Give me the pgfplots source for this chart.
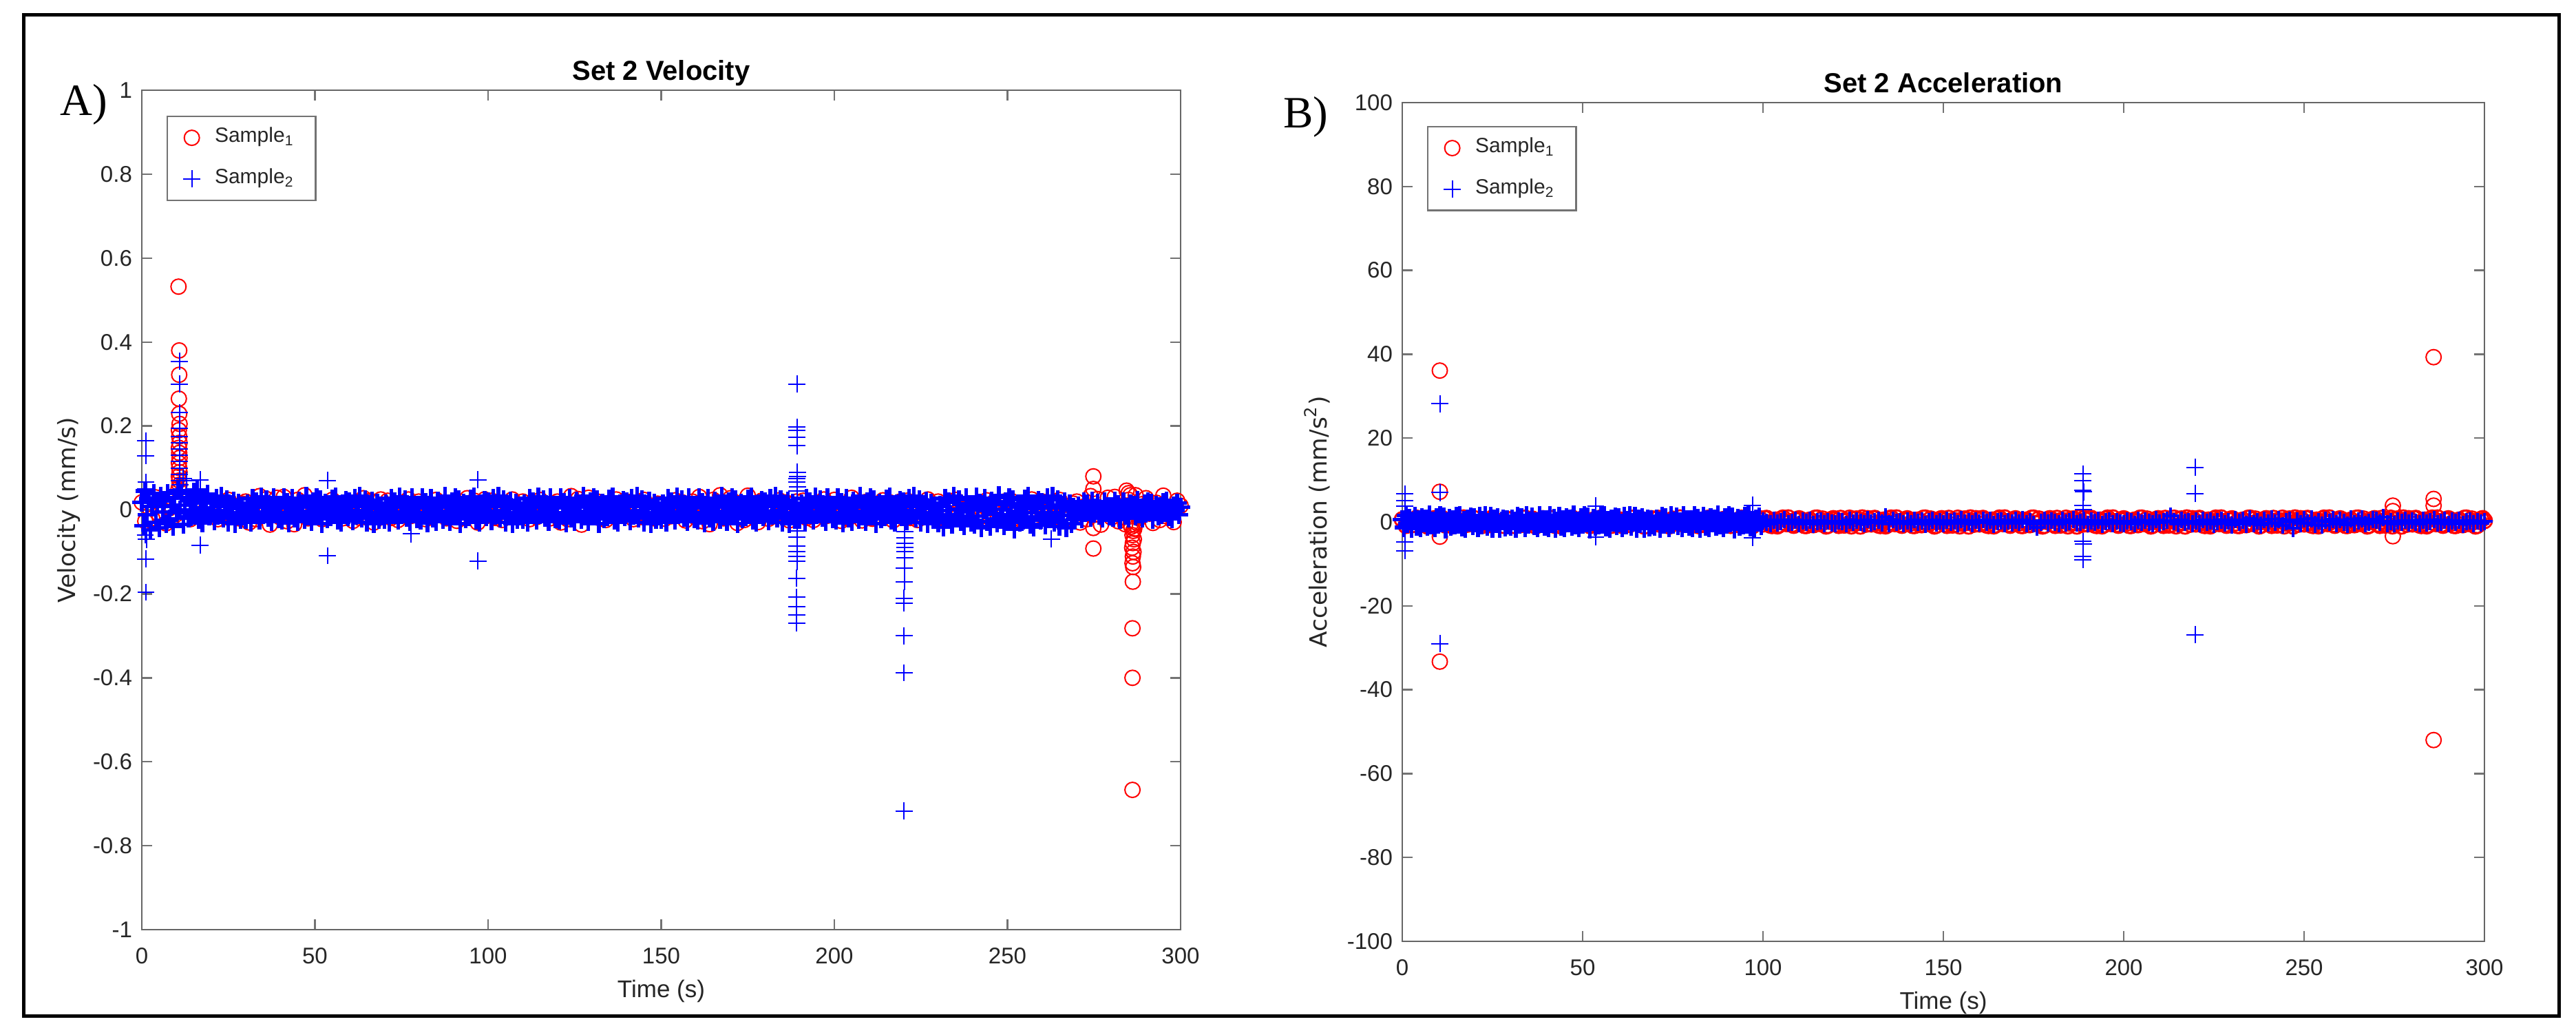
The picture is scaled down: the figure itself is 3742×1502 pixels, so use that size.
\documentclass[border=0pt]{standalone}
\usepackage{fontspec}
\setmainfont{Liberation Sans}
\newfontfamily\panelfont{Liberation Serif}
\newfontfamily\labelfont{DejaVu Sans}
\usepackage{pgfplots}
\pgfplotsset{compat=1.18}
\pgfplotsset{
  matlab/.style={
    scale only axis, clip=false,
    xmin=0, xmax=300,
    xtick={0,50,100,150,200,250,300},
    xticklabels={0,50,100,150,200,250,300},
    tick align=inside, major tick length=3.75pt,
    axis line style={black!60, line width=0.6pt},
    tick style={black!55, line width=0.6pt},
    tick label style={font=\fontsize{8.25}{9}\selectfont, text=black!85},
    xticklabel style={yshift=-3.2pt},
    every axis title/.style={at={(0.5,1)}, anchor=base, yshift=3.75pt, font=\fontsize{10}{12}\selectfont\bfseries},
    xlabel style={font=\fontsize{8.75}{10}\selectfont, text=black!85, at={(axis description cs:0.5,0)}, anchor=base, yshift=-24.5pt},
    ylabel style={font=\fontsize{8.6}{10}\labelfont, text=black!85, anchor=center},
    legend style={anchor=north west, draw=black!55, line width=0.6pt, font=\fontsize{7.5}{9}\selectfont, text=black!85, inner xsep=5.75pt, inner ysep=2pt, row sep=3.5pt, column sep=3.25pt, cells={anchor=west}, nodes={inner sep=2pt, text depth=0.2em}},
  },
  s1/.style={only marks, mark=o, color=red, mark size=2.75pt, line width=0.5pt},
  s1band/.style={only marks, mark=o, color=red, mark size=2.75pt, line width=0.7pt},
  s2/.style={only marks, mark=+, color=blue, mark size=3.1pt, line width=0.5pt},
  s2band/.style={only marks, mark=+, color=blue, mark size=3.4pt, line width=1.3pt},
}
\begin{document}
\begin{tikzpicture}[x=0.25pt,y=0.25pt]
\useasboundingbox (0,0) rectangle (3742,1502);
\fill[white] (0,0) rectangle (3742,1502);
\draw[line width=1.25pt] (34,27) rectangle (3717,1480);
\node[font=\fontsize{16.25}{18}\panelfont, anchor=center] at (122,1350) {A)};
\node[font=\fontsize{16.25}{18}\panelfont, anchor=center] at (1897,1332) {B)};
\coordinate (LA) at (206,152);
\coordinate (RA) at (2037,135);

% ---------------- Velocity ----------------
\begin{axis}[matlab, at={(LA)}, anchor=south west, width=377.25pt, height=304.75pt,
  ymin=-1, ymax=1,
  ytick={-1,-0.8,-0.6,-0.4,-0.2,0,0.2,0.4,0.6,0.8,1},
  yticklabels={-1,-0.8,-0.6,-0.4,-0.2,0,0.2,0.4,0.6,0.8,1},
  title={Set 2 Velocity}, xlabel={Time (s)}, ylabel={Velocity (mm/s)},
  ylabel style={at={(axis description cs:-0.0702,0.5)}},
  legend style={at={(axis description cs:0.0239,0.9696)}}]
% Sample 1 band
\addplot[s1, forget plot] coordinates {
(0,0.018)(1,-0.027)(2,0.007)(3,-0.020)(4,0.030)(5,-0.011)(6,0.023)(7,-0.032)(8,0.004)(9,0.026)
(10,-0.010)(11,0.027)(12,-0.017)(13,0.011)(14,-0.022)(15,0.022)(16,-0.001)(17,0.031)(18,-0.012)(19,0.014)
(20,0.020)(21,-0.006)(22,-0.022)(23,0.012)(24,-0.017)(25,0.024)(26,-0.011)(27,0.002)(28,-0.020)(29,0.015)
(30,0.020)(31,-0.030)(32,0.008)(33,-0.022)(34,0.033)(35,-0.012)(36,0.026)(37,-0.035)(38,0.004)(39,0.029)
(40,-0.018)(41,0.031)(42,-0.027)(43,0.010)(44,-0.034)(45,0.024)(46,-0.006)(47,0.035)(48,-0.020)(49,0.014)
(50,0.020)(51,-0.006)(52,-0.022)(53,0.012)(54,-0.017)(55,0.024)(56,-0.011)(57,0.002)(58,-0.020)(59,0.015)
(60,0.017)(61,-0.026)(62,0.007)(63,-0.019)(64,0.028)(65,-0.010)(66,0.022)(67,-0.030)(68,0.003)(69,0.025)
(70,-0.013)(71,0.022)(72,-0.019)(73,0.007)(74,-0.024)(75,0.017)(76,-0.004)(77,0.025)(78,-0.014)(79,0.010)
(80,0.020)(81,-0.006)(82,-0.022)(83,0.012)(84,-0.017)(85,0.024)(86,-0.011)(87,0.002)(88,-0.020)(89,0.015)
(90,0.017)(91,-0.026)(92,0.007)(93,-0.019)(94,0.028)(95,-0.010)(96,0.022)(97,-0.030)(98,0.003)(99,0.025)
(100,-0.013)(101,0.022)(102,-0.019)(103,0.007)(104,-0.024)(105,0.017)(106,-0.004)(107,0.025)(108,-0.014)(109,0.010)
(110,0.020)(111,-0.006)(112,-0.022)(113,0.012)(114,-0.017)(115,0.024)(116,-0.011)(117,0.002)(118,-0.020)(119,0.015)
(120,0.020)(121,-0.030)(122,0.008)(123,-0.022)(124,0.033)(125,-0.012)(126,0.026)(127,-0.035)(128,0.004)(129,0.029)
(130,-0.013)(131,0.022)(132,-0.019)(133,0.007)(134,-0.024)(135,0.017)(136,-0.004)(137,0.025)(138,-0.014)(139,0.010)
(140,0.020)(141,-0.006)(142,-0.022)(143,0.012)(144,-0.017)(145,0.024)(146,-0.011)(147,0.002)(148,-0.020)(149,0.015)
(150,0.014)(151,-0.021)(152,0.006)(153,-0.015)(154,0.023)(155,-0.008)(156,0.018)(157,-0.025)(158,0.003)(159,0.020)
(160,-0.018)(161,0.031)(162,-0.027)(163,0.010)(164,-0.034)(165,0.024)(166,-0.006)(167,0.035)(168,-0.020)(169,0.014)
(170,0.028)(171,-0.009)(172,-0.031)(173,0.017)(174,-0.024)(175,0.034)(176,-0.015)(177,0.003)(178,-0.029)(179,0.022)
(180,0.014)(181,-0.021)(182,0.006)(183,-0.015)(184,0.023)(185,-0.008)(186,0.018)(187,-0.025)(188,0.003)(189,0.020)
(190,-0.013)(191,0.022)(192,-0.019)(193,0.007)(194,-0.024)(195,0.017)(196,-0.004)(197,0.025)(198,-0.014)(199,0.010)
(200,0.024)(201,-0.008)(202,-0.026)(203,0.014)(204,-0.020)(205,0.029)(206,-0.013)(207,0.003)(208,-0.025)(209,0.019)
(210,0.014)(211,-0.021)(212,0.006)(213,-0.015)(214,0.023)(215,-0.008)(216,0.018)(217,-0.025)(218,0.003)(219,0.020)
(220,-0.013)(221,0.022)(222,-0.019)(223,0.007)(224,-0.024)(225,0.017)(226,-0.004)(227,0.025)(228,-0.014)(229,0.010)
(230,0.020)(231,-0.006)(232,-0.022)(233,0.012)(234,-0.017)(235,0.024)(236,-0.011)(237,0.002)(238,-0.020)(239,0.015)
(240,0.014)(241,-0.021)(242,0.006)(243,-0.015)(244,0.023)(245,-0.008)(246,0.018)(247,-0.025)(248,0.003)(249,0.020)
(250,-0.013)(251,0.022)(252,-0.019)(253,0.007)(254,-0.024)(255,0.017)(256,-0.004)(257,0.025)(258,-0.014)(259,0.010)
(260,0.020)(261,-0.006)(262,-0.022)(263,0.012)(264,-0.017)(265,0.024)(266,-0.011)(267,0.002)(268,-0.020)(269,0.015)
(270,0.020)(271,-0.030)(272,0.008)(273,-0.022)(274,0.033)(275,-0.012)(276,0.026)(277,-0.035)(278,0.004)(279,0.029)
(280,-0.018)(281,0.031)(282,-0.027)(283,0.010)(284,-0.034)(285,0.024)(286,-0.006)(287,0.035)(288,-0.020)(289,0.014)
(290,0.028)(291,-0.009)(292,-0.031)(293,0.017)(294,-0.024)(295,0.034)(296,-0.015)(297,0.003)(298,-0.029)(299,0.022)
(300,0.010)};
\addplot[s1] coordinates {
(10.6,0.532)(10.8,0.380)(10.8,0.322)(10.7,0.265)(10.8,0.229)(10.9,0.205)(10.7,0.190)(10.8,0.175)(10.9,0.160)(10.7,0.148)
(10.8,0.136)(10.9,0.124)(10.7,0.112)(10.8,0.100)(10.9,0.090)(10.7,0.080)(10.8,0.070)(10.9,0.060)(10.6,0.050)
(274.8,0.080)(274.8,0.050)(274.8,-0.043)(274.8,-0.092)
(284.4,0.046)(285,0.040)(285.5,0.035)
(286.1,-0.667)(286.1,-0.400)(286.1,-0.282)(286.2,-0.171)(286.3,-0.136)(286.1,-0.127)(286.2,-0.111)(286.4,-0.100)(286,-0.090)
(286.2,-0.079)(286.5,-0.070)(286.1,-0.060)(286.3,-0.050)(286.6,-0.045)(285.8,-0.040)(286.8,-0.035)(287.2,-0.030)(285.5,-0.035)};
\addlegendentry{Sample\textsubscript{1}}
% Sample 2 band
\addplot[s2band, forget plot] coordinates {
(0,0.018)(0.5,-0.038)(1,0.045)(1.5,-0.012)(2,0.027)(2.5,-0.047)(3,0.008)(3.5,0.040)(4,-0.029)(4.5,0.014)(5,-0.042)(5.5,0.033)(6,-0.005)(6.5,0.023)(7,-0.033)(7.5,0.040)(8,-0.021)(8.5,0.009)(9,-0.040)(9.5,0.030)
(10,-0.006)(10.5,0.046)(11,0.000)(11.5,0.039)(12,-0.035)(12.5,0.011)(13,0.030)(13.5,-0.019)(14,0.022)(14.5,-0.013)(15,0.042)(15.5,-0.004)(16,0.048)(16.5,-0.023)(17,0.017)(17.5,-0.031)(18,0.026)(18.5,0.005)(19,0.038)(19.5,-0.014)
(20,0.019)(20.5,-0.004)(21,-0.026)(21.5,0.028)(22,-0.013)(22.5,0.008)(23,0.032)(23.5,-0.020)(24,-0.001)(24.5,0.025)(25,-0.029)(25.5,0.013)(26,-0.007)(26.5,0.021)(27,-0.032)(27.5,0.004)(28,0.016)(28.5,-0.023)(29,0.010)(29.5,-0.015)
(30,-0.022)(30.5,0.014)(31,0.003)(31.5,-0.030)(32,0.027)(32.5,-0.010)(33,0.020)(33.5,-0.005)(34,-0.025)(34.5,0.031)(35,-0.012)(35.5,0.006)(36,0.024)(36.5,-0.018)(37,0.001)(37.5,-0.027)(38,0.029)(38.5,-0.008)(39,0.011)(39.5,-0.021)
(40,0.012)(40.5,-0.025)(41,0.030)(41.5,-0.008)(42,0.018)(42.5,-0.031)(43,0.005)(43.5,0.027)(44,-0.019)(44.5,0.009)(45,-0.028)(45.5,0.022)(46,-0.003)(46.5,0.015)(47,-0.022)(47.5,0.033)(48,-0.014)(48.5,0.006)(49,-0.027)(49.5,0.020)
(50,-0.011)(50.5,0.029)(51,-0.006)(51.5,0.024)(52,-0.033)(52.5,0.002)(53,0.017)(53.5,-0.021)(54,0.011)(54.5,-0.016)(55,0.026)(55.5,-0.009)(56,0.031)(56.5,-0.024)(57,0.007)(57.5,-0.030)(58,0.014)(58.5,-0.002)(59,0.023)(59.5,-0.017)
(60,0.019)(60.5,-0.004)(61,-0.026)(61.5,0.028)(62,-0.013)(62.5,0.008)(63,0.032)(63.5,-0.020)(64,-0.001)(64.5,0.025)(65,-0.029)(65.5,0.013)(66,-0.007)(66.5,0.021)(67,-0.032)(67.5,0.004)(68,0.016)(68.5,-0.023)(69,0.010)(69.5,-0.015)
(70,-0.022)(70.5,0.014)(71,0.003)(71.5,-0.030)(72,0.027)(72.5,-0.010)(73,0.020)(73.5,-0.005)(74,-0.025)(74.5,0.031)(75,-0.012)(75.5,0.006)(76,0.024)(76.5,-0.018)(77,0.001)(77.5,-0.027)(78,0.029)(78.5,-0.008)(79,0.011)(79.5,-0.021)
(80,0.012)(80.5,-0.025)(81,0.030)(81.5,-0.008)(82,0.018)(82.5,-0.031)(83,0.005)(83.5,0.027)(84,-0.019)(84.5,0.009)(85,-0.028)(85.5,0.022)(86,-0.003)(86.5,0.015)(87,-0.022)(87.5,0.033)(88,-0.014)(88.5,0.006)(89,-0.027)(89.5,0.020)
(90,-0.011)(90.5,0.029)(91,-0.006)(91.5,0.024)(92,-0.033)(92.5,0.002)(93,0.017)(93.5,-0.021)(94,0.011)(94.5,-0.016)(95,0.026)(95.5,-0.009)(96,0.031)(96.5,-0.024)(97,0.007)(97.5,-0.030)(98,0.014)(98.5,-0.002)(99,0.023)(99.5,-0.017)
(100,0.019)(100.5,-0.004)(101,-0.026)(101.5,0.028)(102,-0.013)(102.5,0.008)(103,0.032)(103.5,-0.020)(104,-0.001)(104.5,0.025)(105,-0.029)(105.5,0.013)(106,-0.007)(106.5,0.021)(107,-0.032)(107.5,0.004)(108,0.016)(108.5,-0.023)(109,0.010)(109.5,-0.015)
(110,-0.022)(110.5,0.014)(111,0.003)(111.5,-0.030)(112,0.027)(112.5,-0.010)(113,0.020)(113.5,-0.005)(114,-0.025)(114.5,0.031)(115,-0.012)(115.5,0.006)(116,0.024)(116.5,-0.018)(117,0.001)(117.5,-0.027)(118,0.029)(118.5,-0.008)(119,0.011)(119.5,-0.021)
(120,0.012)(120.5,-0.025)(121,0.030)(121.5,-0.008)(122,0.018)(122.5,-0.031)(123,0.005)(123.5,0.027)(124,-0.019)(124.5,0.009)(125,-0.028)(125.5,0.022)(126,-0.003)(126.5,0.015)(127,-0.022)(127.5,0.033)(128,-0.014)(128.5,0.006)(129,-0.027)(129.5,0.020)
(130,-0.011)(130.5,0.029)(131,-0.006)(131.5,0.024)(132,-0.033)(132.5,0.002)(133,0.017)(133.5,-0.021)(134,0.011)(134.5,-0.016)(135,0.026)(135.5,-0.009)(136,0.031)(136.5,-0.024)(137,0.007)(137.5,-0.030)(138,0.014)(138.5,-0.002)(139,0.023)(139.5,-0.017)
(140,0.019)(140.5,-0.004)(141,-0.026)(141.5,0.028)(142,-0.013)(142.5,0.008)(143,0.032)(143.5,-0.020)(144,-0.001)(144.5,0.025)(145,-0.029)(145.5,0.013)(146,-0.007)(146.5,0.021)(147,-0.032)(147.5,0.004)(148,0.016)(148.5,-0.023)(149,0.010)(149.5,-0.015)
(150,-0.022)(150.5,0.014)(151,0.003)(151.5,-0.030)(152,0.027)(152.5,-0.010)(153,0.020)(153.5,-0.005)(154,-0.025)(154.5,0.031)(155,-0.012)(155.5,0.006)(156,0.024)(156.5,-0.018)(157,0.001)(157.5,-0.027)(158,0.029)(158.5,-0.008)(159,0.011)(159.5,-0.021)
(160,0.012)(160.5,-0.025)(161,0.030)(161.5,-0.008)(162,0.018)(162.5,-0.031)(163,0.005)(163.5,0.027)(164,-0.019)(164.5,0.009)(165,-0.028)(165.5,0.022)(166,-0.003)(166.5,0.015)(167,-0.022)(167.5,0.033)(168,-0.014)(168.5,0.006)(169,-0.027)(169.5,0.020)
(170,-0.011)(170.5,0.029)(171,-0.006)(171.5,0.024)(172,-0.033)(172.5,0.002)(173,0.017)(173.5,-0.021)(174,0.011)(174.5,-0.016)(175,0.026)(175.5,-0.009)(176,0.031)(176.5,-0.024)(177,0.007)(177.5,-0.030)(178,0.014)(178.5,-0.002)(179,0.023)(179.5,-0.017)
(180,0.019)(180.5,-0.004)(181,-0.026)(181.5,0.028)(182,-0.013)(182.5,0.008)(183,0.032)(183.5,-0.020)(184,-0.001)(184.5,0.025)(185,-0.029)(185.5,0.013)(186,-0.007)(186.5,0.021)(187,-0.032)(187.5,0.004)(188,0.016)(188.5,-0.023)(189,0.010)(189.5,-0.015)
(190,-0.022)(190.5,0.014)(191,0.003)(191.5,-0.030)(192,0.027)(192.5,-0.010)(193,0.020)(193.5,-0.005)(194,-0.025)(194.5,0.031)(195,-0.012)(195.5,0.006)(196,0.024)(196.5,-0.018)(197,0.001)(197.5,-0.027)(198,0.029)(198.5,-0.008)(199,0.011)(199.5,-0.021)
(200,0.012)(200.5,-0.025)(201,0.030)(201.5,-0.008)(202,0.018)(202.5,-0.031)(203,0.005)(203.5,0.027)(204,-0.019)(204.5,0.009)(205,-0.028)(205.5,0.022)(206,-0.003)(206.5,0.015)(207,-0.022)(207.5,0.033)(208,-0.014)(208.5,0.006)(209,-0.027)(209.5,0.020)
(210,-0.011)(210.5,0.029)(211,-0.006)(211.5,0.024)(212,-0.033)(212.5,0.002)(213,0.017)(213.5,-0.021)(214,0.011)(214.5,-0.016)(215,0.026)(215.5,-0.009)(216,0.031)(216.5,-0.024)(217,0.007)(217.5,-0.030)(218,0.014)(218.5,-0.002)(219,0.023)(219.5,-0.017)
(220,0.019)(220.5,-0.004)(221,-0.026)(221.5,0.028)(222,-0.013)(222.5,0.008)(223,0.032)(223.5,-0.020)(224,-0.001)(224.5,0.025)(225,-0.029)(225.5,0.013)(226,-0.007)(226.5,0.021)(227,-0.032)(227.5,0.004)(228,0.016)(228.5,-0.023)(229,0.010)(229.5,-0.015)
(230,-0.031)(230.5,0.012)(231,-0.001)(231.5,-0.041)(232,0.027)(232.5,-0.017)(233,0.019)(233.5,-0.011)(234,-0.035)(234.5,0.032)(235,-0.019)(235.5,0.002)(236,0.024)(236.5,-0.027)(237,-0.004)(237.5,-0.037)(238,0.030)(238.5,-0.015)(239,0.008)(239.5,-0.030)
(240,0.009)(240.5,-0.035)(241,0.031)(241.5,-0.015)(242,0.017)(242.5,-0.042)(243,0.001)(243.5,0.027)(244,-0.028)(244.5,0.006)(245,-0.039)(245.5,0.021)(246,-0.009)(246.5,0.013)(247,-0.031)(247.5,0.035)(248,-0.022)(248.5,0.002)(249,-0.037)(249.5,0.019)
(250,-0.018)(250.5,0.030)(251,-0.012)(251.5,0.024)(252,-0.045)(252.5,-0.003)(253,0.015)(253.5,-0.030)(254,0.008)(254.5,-0.024)(255,0.026)(255.5,-0.016)(256,0.032)(256.5,-0.034)(257,0.003)(257.5,-0.041)(258,0.012)(258.5,-0.007)(259,0.023)(259.5,-0.025)
(260,0.018)(260.5,-0.010)(261,-0.036)(261.5,0.029)(262,-0.021)(262.5,0.005)(263,0.033)(263.5,-0.029)(264,-0.006)(264.5,0.025)(265,-0.040)(265.5,0.011)(266,-0.013)(266.5,0.020)(267,-0.043)(267.5,0.000)(268,0.014)(268.5,-0.033)(269,0.007)(269.5,-0.023)
(270,-0.015)(270.5,0.010)(271,0.002)(271.5,-0.021)(272,0.019)(272.5,-0.007)(273,0.014)(273.5,-0.004)(274,-0.018)(274.5,0.022)(275,-0.008)(275.5,0.004)(276,0.017)(276.5,-0.013)(277,0.001)(277.5,-0.019)(278,0.020)(278.5,-0.006)(279,0.008)(279.5,-0.015)
(280,0.008)(280.5,-0.018)(281,0.021)(281.5,-0.006)(282,0.013)(282.5,-0.022)(283,0.004)(283.5,0.019)(284,-0.013)(284.5,0.006)(285,-0.020)(285.5,0.015)(286,-0.002)(286.5,0.011)(287,-0.015)(287.5,0.023)(288,-0.010)(288.5,0.004)(289,-0.019)(289.5,0.014)
(290,-0.008)(290.5,0.020)(291,-0.004)(291.5,0.017)(292,-0.023)(292.5,0.001)(293,0.012)(293.5,-0.015)(294,0.008)(294.5,-0.011)(295,0.018)(295.5,-0.006)(296,0.022)(296.5,-0.017)(297,0.005)(297.5,-0.021)(298,0.010)(298.5,-0.001)(299,0.016)(299.5,-0.012)
(300,0.006)};
\addplot[s2] coordinates {
(1.1,0.165)(1.1,0.129)(1.2,0.066)(1.1,0.050)(1.1,-0.117)(1.2,-0.196)(1.0,-0.060)(1.3,-0.070)
(10.9,0.354)(10.9,0.300)(10.9,0.232)(10.9,0.195)(10.9,0.175)(10.9,0.160)(10.9,0.145)(10.9,0.130)(10.9,0.115)(10.9,0.100)(10.9,0.085)(10.9,0.070)(11,0.060)(12,0.075)(13,0.070)
(16.8,0.072)(16.8,-0.084)(53.6,0.070)(53.6,-0.109)(77.8,-0.057)(97.1,0.072)(97.1,-0.122)
(189.2,0.300)(189.2,0.197)(189.2,0.190)(189.2,0.173)(189.2,0.153)(189.3,0.090)(189.3,0.080)(189.2,0.075)(189.2,0.066)(189.3,0.055)(189.2,0.045)
(189.2,-0.050)(189.2,-0.065)(189.2,-0.086)(189.2,-0.099)(189.2,-0.111)(189.2,-0.123)(189.1,-0.163)(189.1,-0.208)(189.1,-0.230)(189.1,-0.250)(189.1,-0.270)
(220.3,-0.051)(220.3,-0.066)(220.3,-0.079)(220.3,-0.090)(220.3,-0.099)(220.3,-0.114)(220.2,-0.138)(220.2,-0.171)(220.1,-0.210)(220.1,-0.222)(220.1,-0.300)(220.1,-0.388)(220.1,-0.717)
(262.7,-0.069)};
\addlegendentry{Sample\textsubscript{2}}
\end{axis}

% ---------------- Acceleration ----------------
\begin{axis}[matlab, at={(RA)}, anchor=south west, width=393pt, height=304.5pt,
  ymin=-100, ymax=100,
  ytick={-100,-80,-60,-40,-20,0,20,40,60,80,100},
  yticklabels={-100,-80,-60,-40,-20,0,20,40,60,80,100},
  title={Set 2 Acceleration}, xlabel={Time (s)}, ylabel={Acceleration (mm/s\textsuperscript{2})},
  ylabel style={at={(axis description cs:-0.0789,0.5)}},
  legend style={at={(axis description cs:0.0229,0.9721)}}]
\addplot[s1band, forget plot] coordinates {
(0,0.57)(1,-0.86)(2,0.23)(3,-0.63)(4,0.94)(5,-0.34)(6,0.74)(7,-1)(8,0.11)(9,0.83)
(10,-0.51)(11,0.89)(12,-0.77)(13,0.29)(14,-0.97)(15,0.69)(16,-0.17)(17,1)(18,-0.57)(19,0.4)
(20,0.8)(21,-0.26)(22,-0.89)(23,0.49)(24,-0.69)(25,0.97)(26,-0.43)(27,0.09)(28,-0.83)(29,0.63)
(30,0.57)(31,-0.86)(32,0.23)(33,-0.63)(34,0.94)(35,-0.34)(36,0.74)(37,-1)(38,0.11)(39,0.83)
(40,-0.51)(41,0.89)(42,-0.77)(43,0.29)(44,-0.97)(45,0.69)(46,-0.17)(47,1)(48,-0.57)(49,0.4)
(50,0.8)(51,-0.26)(52,-0.89)(53,0.49)(54,-0.69)(55,0.97)(56,-0.43)(57,0.09)(58,-0.83)(59,0.63)
(60,0.57)(61,-0.86)(62,0.23)(63,-0.63)(64,0.94)(65,-0.34)(66,0.74)(67,-1)(68,0.11)(69,0.83)
(70,-0.51)(71,0.89)(72,-0.77)(73,0.29)(74,-0.97)(75,0.69)(76,-0.17)(77,1)(78,-0.57)(79,0.4)
(80,0.8)(81,-0.26)(82,-0.89)(83,0.49)(84,-0.69)(85,0.97)(86,-0.43)(87,0.09)(88,-0.83)(89,0.63)
(90,0.57)(91,-0.86)(92,0.23)(93,-0.63)(94,0.94)(95,-0.34)(96,0.74)(97,-1)(98,0.11)(99,0.83)
(100,-0.51)(101,0.89)(102,-0.77)(103,0.29)(104,-0.97)(105,0.69)(106,-0.17)(107,1)(108,-0.57)(109,0.4)
(110,0.8)(111,-0.26)(112,-0.89)(113,0.49)(114,-0.69)(115,0.97)(116,-0.43)(117,0.09)(118,-0.83)(119,0.63)
(120,0.57)(121,-0.86)(122,0.23)(123,-0.63)(124,0.94)(125,-0.34)(126,0.74)(127,-1)(128,0.11)(129,0.83)
(130,-0.51)(131,0.89)(132,-0.77)(133,0.29)(134,-0.97)(135,0.69)(136,-0.17)(137,1)(138,-0.57)(139,0.4)
(140,0.8)(141,-0.26)(142,-0.89)(143,0.49)(144,-0.69)(145,0.97)(146,-0.43)(147,0.09)(148,-0.83)(149,0.63)
(150,0.57)(151,-0.86)(152,0.23)(153,-0.63)(154,0.94)(155,-0.34)(156,0.74)(157,-1)(158,0.11)(159,0.83)
(160,-0.51)(161,0.89)(162,-0.77)(163,0.29)(164,-0.97)(165,0.69)(166,-0.17)(167,1)(168,-0.57)(169,0.4)
(170,0.8)(171,-0.26)(172,-0.89)(173,0.49)(174,-0.69)(175,0.97)(176,-0.43)(177,0.09)(178,-0.83)(179,0.63)
(180,0.57)(181,-0.86)(182,0.23)(183,-0.63)(184,0.94)(185,-0.34)(186,0.74)(187,-1)(188,0.11)(189,0.83)
(190,-0.51)(191,0.89)(192,-0.77)(193,0.29)(194,-0.97)(195,0.69)(196,-0.17)(197,1)(198,-0.57)(199,0.4)
(200,0.8)(201,-0.26)(202,-0.89)(203,0.49)(204,-0.69)(205,0.97)(206,-0.43)(207,0.09)(208,-0.83)(209,0.63)
(210,0.57)(211,-0.86)(212,0.23)(213,-0.63)(214,0.94)(215,-0.34)(216,0.74)(217,-1)(218,0.11)(219,0.83)
(220,-0.51)(221,0.89)(222,-0.77)(223,0.29)(224,-0.97)(225,0.69)(226,-0.17)(227,1)(228,-0.57)(229,0.4)
(230,0.8)(231,-0.26)(232,-0.89)(233,0.49)(234,-0.69)(235,0.97)(236,-0.43)(237,0.09)(238,-0.83)(239,0.63)
(240,0.57)(241,-0.86)(242,0.23)(243,-0.63)(244,0.94)(245,-0.34)(246,0.74)(247,-1)(248,0.11)(249,0.83)
(250,-0.51)(251,0.89)(252,-0.77)(253,0.29)(254,-0.97)(255,0.69)(256,-0.17)(257,1)(258,-0.57)(259,0.4)
(260,0.8)(261,-0.26)(262,-0.89)(263,0.49)(264,-0.69)(265,0.97)(266,-0.43)(267,0.09)(268,-0.83)(269,0.63)
(270,0.57)(271,-0.86)(272,0.23)(273,-0.63)(274,0.94)(275,-0.34)(276,0.74)(277,-1)(278,0.11)(279,0.83)
(280,-0.51)(281,0.89)(282,-0.77)(283,0.29)(284,-0.97)(285,0.69)(286,-0.17)(287,1)(288,-0.57)(289,0.4)
(290,0.8)(291,-0.26)(292,-0.89)(293,0.49)(294,-0.69)(295,0.97)(296,-0.43)(297,0.09)(298,-0.83)(299,0.63)
(300,0.3)};
\addplot[s1band, forget plot] coordinates {
(100.5,0.8)(101.5,-0.26)(102.5,-0.89)(103.5,0.49)(104.5,-0.69)(105.5,0.97)(106.5,-0.43)(107.5,0.09)(108.5,-0.83)(109.5,0.63)
(110.5,0.57)(111.5,-0.86)(112.5,0.23)(113.5,-0.63)(114.5,0.94)(115.5,-0.34)(116.5,0.74)(117.5,-1)(118.5,0.11)(119.5,0.83)
(120.5,-0.51)(121.5,0.89)(122.5,-0.77)(123.5,0.29)(124.5,-0.97)(125.5,0.69)(126.5,-0.17)(127.5,1)(128.5,-0.57)(129.5,0.4)
(130.5,0.8)(131.5,-0.26)(132.5,-0.89)(133.5,0.49)(134.5,-0.69)(135.5,0.97)(136.5,-0.43)(137.5,0.09)(138.5,-0.83)(139.5,0.63)
(140.5,0.57)(141.5,-0.86)(142.5,0.23)(143.5,-0.63)(144.5,0.94)(145.5,-0.34)(146.5,0.74)(147.5,-1)(148.5,0.11)(149.5,0.83)
(150.5,-0.51)(151.5,0.89)(152.5,-0.77)(153.5,0.29)(154.5,-0.97)(155.5,0.69)(156.5,-0.17)(157.5,1)(158.5,-0.57)(159.5,0.4)
(160.5,0.8)(161.5,-0.26)(162.5,-0.89)(163.5,0.49)(164.5,-0.69)(165.5,0.97)(166.5,-0.43)(167.5,0.09)(168.5,-0.83)(169.5,0.63)
(170.5,0.57)(171.5,-0.86)(172.5,0.23)(173.5,-0.63)(174.5,0.94)(175.5,-0.34)(176.5,0.74)(177.5,-1)(178.5,0.11)(179.5,0.83)
(180.5,-0.51)(181.5,0.89)(182.5,-0.77)(183.5,0.29)(184.5,-0.97)(185.5,0.69)(186.5,-0.17)(187.5,1)(188.5,-0.57)(189.5,0.4)
(190.5,0.8)(191.5,-0.26)(192.5,-0.89)(193.5,0.49)(194.5,-0.69)(195.5,0.97)(196.5,-0.43)(197.5,0.09)(198.5,-0.83)(199.5,0.63)
(200.5,0.57)(201.5,-0.86)(202.5,0.23)(203.5,-0.63)(204.5,0.94)(205.5,-0.34)(206.5,0.74)(207.5,-1)(208.5,0.11)(209.5,0.83)
(210.5,-0.51)(211.5,0.89)(212.5,-0.77)(213.5,0.29)(214.5,-0.97)(215.5,0.69)(216.5,-0.17)(217.5,1)(218.5,-0.57)(219.5,0.4)
(220.5,0.8)(221.5,-0.26)(222.5,-0.89)(223.5,0.49)(224.5,-0.69)(225.5,0.97)(226.5,-0.43)(227.5,0.09)(228.5,-0.83)(229.5,0.63)
(230.5,0.57)(231.5,-0.86)(232.5,0.23)(233.5,-0.63)(234.5,0.94)(235.5,-0.34)(236.5,0.74)(237.5,-1)(238.5,0.11)(239.5,0.83)
(240.5,-0.51)(241.5,0.89)(242.5,-0.77)(243.5,0.29)(244.5,-0.97)(245.5,0.69)(246.5,-0.17)(247.5,1)(248.5,-0.57)(249.5,0.4)
(250.5,0.8)(251.5,-0.26)(252.5,-0.89)(253.5,0.49)(254.5,-0.69)(255.5,0.97)(256.5,-0.43)(257.5,0.09)(258.5,-0.83)(259.5,0.63)
(260.5,0.57)(261.5,-0.86)(262.5,0.23)(263.5,-0.63)(264.5,0.94)(265.5,-0.34)(266.5,0.74)(267.5,-1)(268.5,0.11)(269.5,0.83)
(270.5,-0.51)(271.5,0.89)(272.5,-0.77)(273.5,0.29)(274.5,-0.97)(275.5,0.69)(276.5,-0.17)(277.5,1)(278.5,-0.57)(279.5,0.4)
(280.5,0.8)(281.5,-0.26)(282.5,-0.89)(283.5,0.49)(284.5,-0.69)(285.5,0.97)(286.5,-0.43)(287.5,0.09)(288.5,-0.83)(289.5,0.63)
(290.5,0.57)(291.5,-0.86)(292.5,0.23)(293.5,-0.63)(294.5,0.94)(295.5,-0.34)(296.5,0.74)(297.5,-1)(298.5,0.11)(299.5,0.83)};
\addplot[s1] coordinates {
(10.4,36.1)(10.4,7.2)(10.4,-3.5)(10.4,-33.3)(274.6,3.9)(274.6,2.6)(274.6,-3.4)(285.9,39.3)(285.9,5.5)(285.9,3.9)(285.9,-52.0)};
\addlegendentry{Sample\textsubscript{1}}
\addplot[s2band, forget plot] coordinates {
(0,0.6)(0.5,-1.3)(1,1.5)(1.5,-0.4)(2,0.9)(2.5,-1.6)(3,0.3)(3.5,1.4)(4,-1)(4.5,0.5)(5,-1.4)(5.5,1.1)(6,-0.2)(6.5,0.8)(7,-1.1)(7.5,1.7)(8,-0.7)(8.5,0.3)(9,-1.4)(9.5,1)
(10,-0.6)(10.5,1.5)(11,-0.3)(11.5,1.2)(12,-1.7)(12.5,0.1)(13,0.9)(13.5,-1.1)(14,0.6)(14.5,-0.8)(15,1.3)(15.5,-0.5)(16,1.6)(16.5,-1.2)(17,0.4)(17.5,-1.5)(18,0.7)(18.5,-0.1)(19,1.2)(19.5,-0.9)
(20,1)(20.5,-0.2)(21,-1.3)(21.5,1.4)(22,-0.7)(22.5,0.4)(23,1.6)(23.5,-1)(24,-0.1)(24.5,1.3)(25,-1.5)(25.5,0.7)(26,-0.4)(26.5,1.1)(27,-1.6)(27.5,0.2)(28,0.8)(28.5,-1.2)(29,0.5)(29.5,-0.8)
(30,-1.1)(30.5,0.7)(31,0.2)(31.5,-1.5)(32,1.4)(32.5,-0.5)(33,1)(33.5,-0.3)(34,-1.3)(34.5,1.6)(35,-0.6)(35.5,0.3)(36,1.2)(36.5,-0.9)(37,0.1)(37.5,-1.4)(38,1.5)(38.5,-0.4)(39,0.6)(39.5,-1.1)
(40,0.6)(40.5,-1.3)(41,1.5)(41.5,-0.4)(42,0.9)(42.5,-1.6)(43,0.3)(43.5,1.4)(44,-1)(44.5,0.5)(45,-1.4)(45.5,1.1)(46,-0.2)(46.5,0.8)(47,-1.1)(47.5,1.7)(48,-0.7)(48.5,0.3)(49,-1.4)(49.5,1)
(50,-0.6)(50.5,1.5)(51,-0.3)(51.5,1.2)(52,-1.7)(52.5,0.1)(53,0.9)(53.5,-1.1)(54,0.6)(54.5,-0.8)(55,1.3)(55.5,-0.5)(56,1.6)(56.5,-1.2)(57,0.4)(57.5,-1.5)(58,0.7)(58.5,-0.1)(59,1.2)(59.5,-0.9)
(60,1)(60.5,-0.2)(61,-1.3)(61.5,1.4)(62,-0.7)(62.5,0.4)(63,1.6)(63.5,-1)(64,-0.1)(64.5,1.3)(65,-1.5)(65.5,0.7)(66,-0.4)(66.5,1.1)(67,-1.6)(67.5,0.2)(68,0.8)(68.5,-1.2)(69,0.5)(69.5,-0.8)
(70,-1.1)(70.5,0.7)(71,0.2)(71.5,-1.5)(72,1.4)(72.5,-0.5)(73,1)(73.5,-0.3)(74,-1.3)(74.5,1.6)(75,-0.6)(75.5,0.3)(76,1.2)(76.5,-0.9)(77,0.1)(77.5,-1.4)(78,1.5)(78.5,-0.4)(79,0.6)(79.5,-1.1)
(80,0.6)(80.5,-1.3)(81,1.5)(81.5,-0.4)(82,0.9)(82.5,-1.6)(83,0.3)(83.5,1.4)(84,-1)(84.5,0.5)(85,-1.4)(85.5,1.1)(86,-0.2)(86.5,0.8)(87,-1.1)(87.5,1.7)(88,-0.7)(88.5,0.3)(89,-1.4)(89.5,1)
(90,-0.6)(90.5,1.5)(91,-0.3)(91.5,1.2)(92,-1.7)(92.5,0.1)(93,0.9)(93.5,-1.1)(94,0.6)(94.5,-0.8)(95,1.3)(95.5,-0.5)(96,1.6)(96.5,-1.2)(97,0.4)(97.5,-1.5)(98,0.7)(98.5,-0.1)(99,1.2)(99.5,-0.9)};
\addplot[s2, line width=1.0pt, forget plot] coordinates {
(100,0.32)(101,-0.07)(102,-0.43)(103,0.47)(104,-0.22)(105,0.13)(106,0.53)(107,-0.33)(108,-0.02)(109,0.42)
(110,-0.48)(111,0.22)(112,-0.12)(113,0.35)(114,-0.53)(115,0.07)(116,0.27)(117,-0.38)(118,0.17)(119,-0.25)
(120,-0.37)(121,0.23)(122,0.05)(123,-0.5)(124,0.45)(125,-0.17)(126,0.33)(127,-0.08)(128,-0.42)(129,0.52)
(130,-0.2)(131,0.1)(132,0.4)(133,-0.3)(134,1.2)(135,-0.45)(136,0.48)(137,-0.13)(138,0.18)(139,-0.35)
(140,0.2)(141,-0.42)(142,0.5)(143,-0.13)(144,0.3)(145,-0.52)(146,0.08)(147,0.45)(148,-0.32)(149,0.15)
(150,-0.47)(151,0.37)(152,-0.05)(153,0.25)(154,-0.37)(155,0.55)(156,-0.23)(157,0.1)(158,-0.45)(159,0.33)
(160,-0.18)(161,0.48)(162,-0.1)(163,0.4)(164,-0.55)(165,0.03)(166,0.28)(167,-0.35)(168,0.18)(169,-0.27)
(170,0.43)(171,-0.15)(172,0.52)(173,-0.4)(174,0.12)(175,-0.5)(176,-1.3)(177,-0.03)(178,0.38)(179,-0.28)
(180,0.32)(181,-0.07)(182,-0.43)(183,0.47)(184,-0.22)(185,0.13)(186,0.53)(187,-0.33)(188,-0.02)(189,0.42)
(190,-0.48)(191,0.22)(192,-0.12)(193,0.35)(194,-0.53)(195,0.07)(196,0.27)(197,-0.38)(198,0.17)(199,-0.25)
(200,-0.37)(201,0.23)(202,0.05)(203,-0.5)(204,0.45)(205,-0.17)(206,0.33)(207,-0.08)(208,-0.42)(209,0.52)
(210,-0.2)(211,0.1)(212,0.4)(213,1.4)(214,0.02)(215,-0.45)(216,0.48)(217,-0.13)(218,0.18)(219,-0.35)
(220,0.2)(221,-0.42)(222,0.5)(223,-0.13)(224,0.3)(225,-0.52)(226,0.08)(227,0.45)(228,-0.32)(229,0.15)
(230,-0.7)(231,0.55)(232,-0.08)(233,0.38)(234,-0.55)(235,0.83)(236,-0.35)(237,0.15)(238,-0.68)(239,0.5)
(240,-0.28)(241,0.73)(242,-0.15)(243,0.6)(244,-0.83)(245,0.05)(246,0.43)(247,-1.5)(248,0.28)(249,-0.4)
(250,0.65)(251,-0.23)(252,0.78)(253,-0.6)(254,0.18)(255,-0.75)(256,0.35)(257,-0.05)(258,0.58)(259,-0.43)
(260,0.48)(261,-0.1)(262,-0.65)(263,0.7)(264,-0.33)(265,0.2)(266,0.8)(267,-0.5)(268,-0.03)(269,0.63)
(270,0.43)(271,-0.15)(272,1.1)(273,-0.4)(274,0.12)(275,-0.5)(276,0.23)(277,-0.03)(278,0.38)(279,-0.28)
(280,0.32)(281,-0.07)(282,-0.43)(283,0.47)(284,-0.22)(285,0.13)(286,0.53)(287,-0.33)(288,-0.02)(289,0.42)
(290,-0.48)(291,0.22)(292,-0.12)(293,0.35)(294,-0.53)(295,0.07)(296,0.27)(297,-0.38)(298,0.17)(299,-0.25)
(300,0.1)};
\addplot[s2] coordinates {
(0.7,6.7)(0.7,5.1)(0.7,3.8)(0.7,-4.7)(0.7,-6.9)(10.4,28.2)(10.4,7.0)(10.4,-29.0)(53.6,3.8)(53.6,-3.6)(97.1,4.0)(97.1,-3.7)
(188.7,11.5)(188.7,9.8)(188.7,7.6)(188.9,7.2)(188.7,3.9)(188.8,3.0)(188.7,-4.6)(188.8,-5.2)(188.7,-8.2)(188.7,-9.0)
(219.8,13.0)(219.8,6.8)(219.8,-26.9)};
\addlegendentry{Sample\textsubscript{2}}
\end{axis}
\end{tikzpicture}
\end{document}
